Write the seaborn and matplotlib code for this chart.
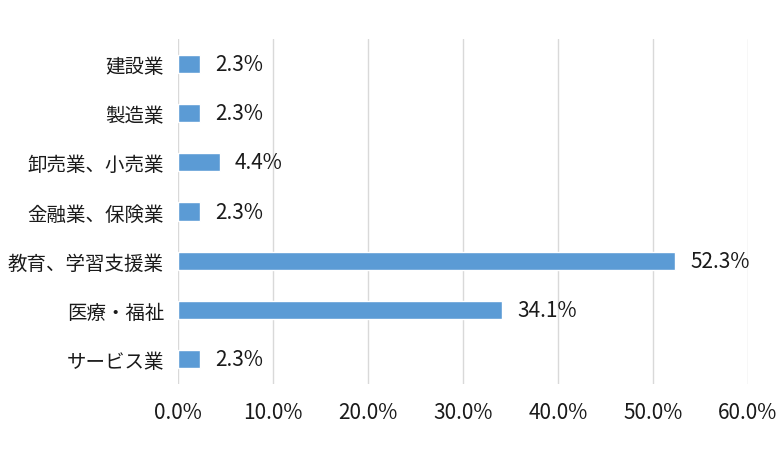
import seaborn as sns
import matplotlib.pyplot as plt
import pandas as pd

categories = ["建設業", "製造業", "卸売業、小売業", "金融業、保険業", "教育、学習支援業", "医療・福祉", "サービス業"]
values = [2.3, 2.3, 4.4, 2.3, 52.3, 34.1, 2.3]
xticks = [0, 10, 20, 30, 40, 50, 60]

sns.set_style("white")
plt.rcParams['font.family'] = ['Noto Sans CJK JP', 'DejaVu Sans']

df = pd.DataFrame({"category": categories, "value": values})

fig = plt.figure(figsize=(7.83, 4.6), dpi=100)
ax = fig.add_axes([0.2273, 0.163, 0.7280, 0.750])

sns.barplot(data=df, y="category", x="value", color="#5b9bd5", saturation=1,
            width=0.37, orient="h", ax=ax)

# value labels to the right of each bar
for i, v in enumerate(values):
    ax.annotate(f"{v:.1f}%", xy=(v, i), xytext=(11, 0), textcoords="offset points",
                va="center", ha="left", fontsize=15, color="#1a1a1a")

ax.set_xlim(0, 60)
ax.set_ylim(6.5, -0.5)
ax.set_xticks(xticks)
ax.set_xticklabels([f"{t:.1f}%" for t in xticks], fontsize=15, color="#1a1a1a")
ax.tick_params(axis="y", labelsize=14, colors="#1a1a1a", length=0, pad=10)
ax.tick_params(axis="x", length=0, pad=12)
ax.set_xlabel("")
ax.set_ylabel("")
ax.grid(axis="x", color="#d9d9d9", linewidth=1)
ax.set_axisbelow(True)
for s in ax.spines.values():
    s.set_visible(False)

fig.savefig("out.png", dpi=100)
